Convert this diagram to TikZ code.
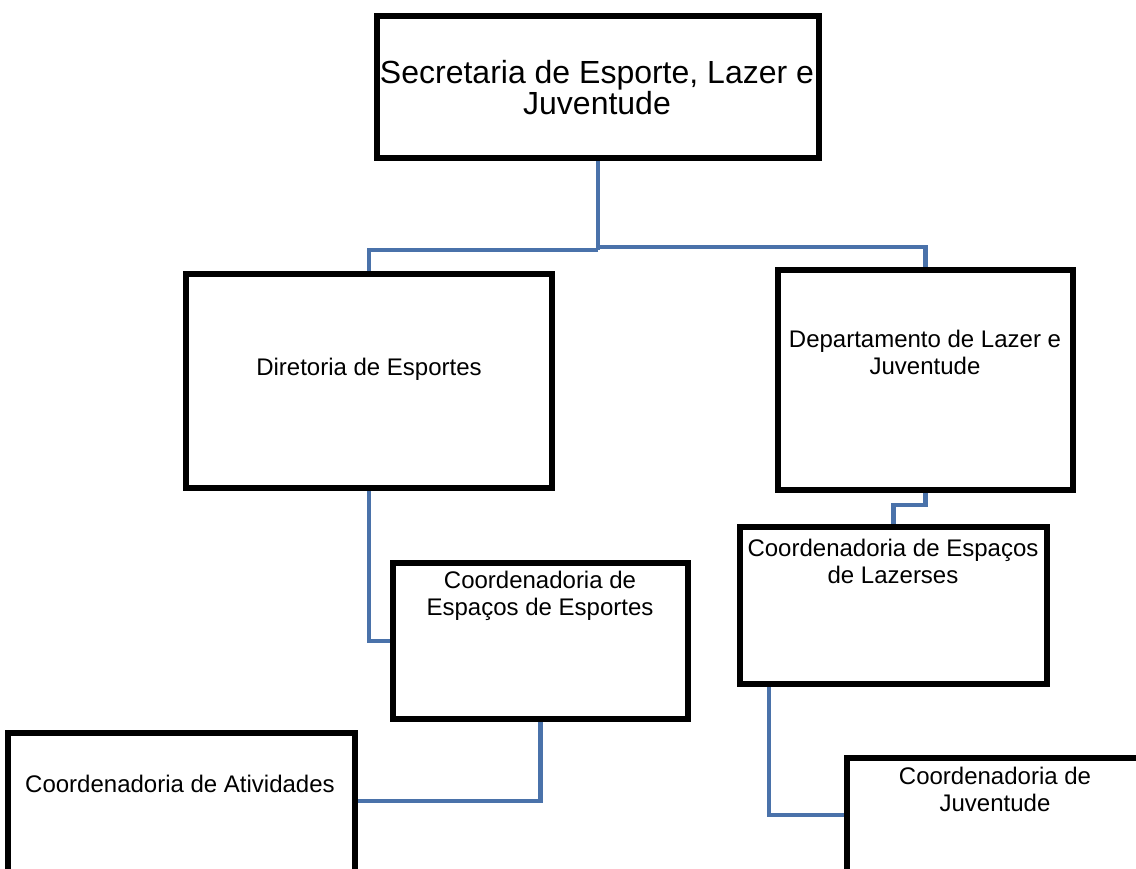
\documentclass[tikz,border=0pt]{standalone}
\usepackage{fontspec}
\setmainfont{Liberation Sans}
\usetikzlibrary{calc}
\definecolor{connblue}{RGB}{74,114,170}
\begin{document}
\begin{tikzpicture}[x=1pt,y=-1pt,
  box/.style={draw=black, line width=4pt, fill=white, inner sep=0pt},
  conn/.style={draw=connblue, line width=4.6pt},
  lbl/.style={align=center, font=\fontsize{24}{27}\selectfont, inner sep=0pt},
  biglbl/.style={align=center, font=\fontsize{32}{31}\selectfont, inner sep=0pt}]
\useasboundingbox (0,0) rectangle (1136,869);
\clip (0,0) rectangle (1136,869);
\fill[white] (0,0) rectangle (1136,869);
\coordinate (jl) at (598,250);
\coordinate (jr) at (598,247);
% boxes
\node[box, minimum width=440pt, minimum height=140pt] (top) at (598,87) {};
\node[box, minimum width=364pt, minimum height=212pt] (dir) at (369,381) {};
\node[box, minimum width=293pt, minimum height=218pt] (dep) at (925.5,380) {};
\node[box, minimum width=293pt, minimum height=154pt] (ces) at (540.5,641) {};
\node[box, minimum width=305pt, minimum height=155pt] (cel) at (893.5,605.5) {};
\node[box, minimum width=345pt, minimum height=226pt] (cat) at (181.5,847) {};
\node[box, minimum width=294pt, minimum height=201pt] (cju) at (995,859.5) {};
% connectors
\draw[conn] (top.south) -- (jl);
\draw[conn] (jl) -| (dir.north);
\draw[conn] (jr) -| (dep.north);
\draw[conn] (dir.south) |- (ces.west);
\draw[conn] (dep.south) -- ++(0,14) -| (cel.north);
\draw[conn] (ces.south) |- ($(cat.north east)+(0,69)$);
\draw[conn] ($(cel.south west)+(30,0)$) |- ($(cju.north west)+(0,58)$);
% redraw box borders over connector ends
\foreach \n in {top,dir,dep,ces,cel,cat,cju}{
  \draw[line width=4pt] (\n.north west) rectangle (\n.south east);
}
% labels
\node[biglbl] (ttop) at (597,88) {Secretaria de Esporte, Lazer e\\Juventude};
\node[lbl] (tdir) at (369,369) {Diretoria de Esportes};
\node[lbl] (tdep) at (925,352) {Departamento de Lazer e\\Juventude};
\node[lbl] (tces) at (540,596) {Coordenadoria de\\Espaços de Esportes};
\node[lbl] (tcel) at (893,561) {Coordenadoria de Espaços\\de Lazerses};
\node[lbl] (tcat) at (180,784) {Coordenadoria de Atividades};
\node[lbl] (tcju) at (995,789) {Coordenadoria de\\Juventude};
\end{tikzpicture}
\end{document}
